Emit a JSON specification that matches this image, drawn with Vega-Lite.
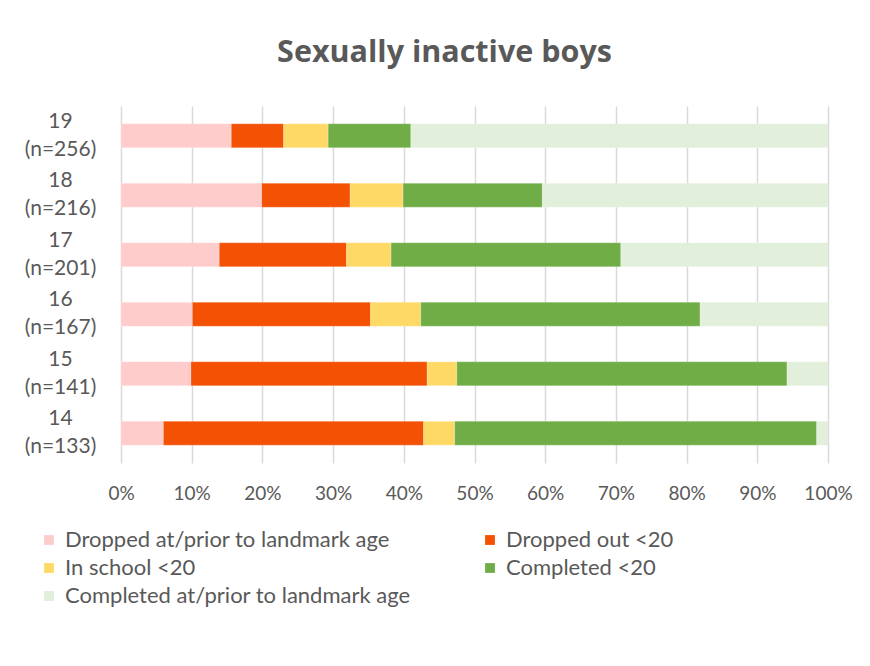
{
  "$schema": "https://vega.github.io/schema/vega-lite/v6.json",
  "width": 707,
  "height": 357,
  "autosize": "none",
  "padding": {"left": 121, "top": 106, "right": 42, "bottom": 203},
  "background": "white",
  "title": {
    "text": "Sexually inactive boys",
    "font": "Open Sans",
    "fontSize": 30.5,
    "fontWeight": "bold",
    "color": "#595959",
    "anchor": "middle",
    "dx": -30,
    "baseline": "alphabetic",
    "offset": 14
  },
  "data": {
    "values": [
      {"age": "19|(n=256)", "status": "Dropped at/prior to landmark age", "k": 1, "pct": 15.6},
      {"age": "19|(n=256)", "status": "Dropped out <20", "k": 2, "pct": 7.4},
      {"age": "19|(n=256)", "status": "In school <20", "k": 3, "pct": 6.3},
      {"age": "19|(n=256)", "status": "Completed <20", "k": 4, "pct": 11.7},
      {"age": "19|(n=256)", "status": "Completed at/prior to landmark age", "k": 5, "pct": 59.0},
      {"age": "18|(n=216)", "status": "Dropped at/prior to landmark age", "k": 1, "pct": 19.9},
      {"age": "18|(n=216)", "status": "Dropped out <20", "k": 2, "pct": 12.5},
      {"age": "18|(n=216)", "status": "In school <20", "k": 3, "pct": 7.5},
      {"age": "18|(n=216)", "status": "Completed <20", "k": 4, "pct": 19.7},
      {"age": "18|(n=216)", "status": "Completed at/prior to landmark age", "k": 5, "pct": 40.4},
      {"age": "17|(n=201)", "status": "Dropped at/prior to landmark age", "k": 1, "pct": 13.9},
      {"age": "17|(n=201)", "status": "Dropped out <20", "k": 2, "pct": 18.0},
      {"age": "17|(n=201)", "status": "In school <20", "k": 3, "pct": 6.3},
      {"age": "17|(n=201)", "status": "Completed <20", "k": 4, "pct": 32.5},
      {"age": "17|(n=201)", "status": "Completed at/prior to landmark age", "k": 5, "pct": 29.3},
      {"age": "16|(n=167)", "status": "Dropped at/prior to landmark age", "k": 1, "pct": 10.1},
      {"age": "16|(n=167)", "status": "Dropped out <20", "k": 2, "pct": 25.2},
      {"age": "16|(n=167)", "status": "In school <20", "k": 3, "pct": 7.1},
      {"age": "16|(n=167)", "status": "Completed <20", "k": 4, "pct": 39.5},
      {"age": "16|(n=167)", "status": "Completed at/prior to landmark age", "k": 5, "pct": 18.1},
      {"age": "15|(n=141)", "status": "Dropped at/prior to landmark age", "k": 1, "pct": 9.9},
      {"age": "15|(n=141)", "status": "Dropped out <20", "k": 2, "pct": 33.4},
      {"age": "15|(n=141)", "status": "In school <20", "k": 3, "pct": 4.2},
      {"age": "15|(n=141)", "status": "Completed <20", "k": 4, "pct": 46.7},
      {"age": "15|(n=141)", "status": "Completed at/prior to landmark age", "k": 5, "pct": 5.8},
      {"age": "14|(n=133)", "status": "Dropped at/prior to landmark age", "k": 1, "pct": 6.0},
      {"age": "14|(n=133)", "status": "Dropped out <20", "k": 2, "pct": 36.8},
      {"age": "14|(n=133)", "status": "In school <20", "k": 3, "pct": 4.4},
      {"age": "14|(n=133)", "status": "Completed <20", "k": 4, "pct": 51.2},
      {"age": "14|(n=133)", "status": "Completed at/prior to landmark age", "k": 5, "pct": 1.6}
    ]
  },
  "mark": {"type": "bar"},
  "encoding": {
    "y": {
      "field": "age",
      "type": "nominal",
      "sort": ["19|(n=256)", "18|(n=216)", "17|(n=201)", "16|(n=167)", "15|(n=141)", "14|(n=133)"],
      "scale": {"paddingInner": 0.6, "paddingOuter": 0.3},
      "axis": {
        "title": null,
        "domain": false,
        "ticks": false,
        "labelExpr": "split(datum.label, '|')",
        "labelAlign": "center",
        "labelBaseline": "middle",
        "labelPadding": 61,
        "labelOffset": -14,
        "labelLineHeight": 28,
        "labelFont": "Lato",
        "labelFontSize": 21,
        "labelColor": "#595959"
      }
    },
    "x": {
      "field": "pct",
      "type": "quantitative",
      "stack": "normalize",
      "scale": {"domain": [0, 1], "nice": false},
      "axis": {
        "title": null,
        "format": ".0%",
        "values": [0, 0.1, 0.2, 0.3, 0.4, 0.5, 0.6, 0.7, 0.8, 0.9, 1],
        "domain": false,
        "ticks": false,
        "grid": true,
        "gridColor": "#D9D9D9",
        "gridWidth": 1.5,
        "labelPadding": 21,
        "labelFont": "Lato",
        "labelFontSize": 19,
        "labelColor": "#595959",
        "labelFlush": false
      }
    },
    "color": {
      "field": "status",
      "type": "nominal",
      "scale": {
        "domain": ["Dropped at/prior to landmark age", "Dropped out <20", "In school <20", "Completed <20", "Completed at/prior to landmark age"],
        "range": ["#FFCCCC", "#F35104", "#FFD966", "#70AD47", "#E2EFDA"]
      },
      "legend": {
        "title": null,
        "orient": "none",
        "direction": "horizontal",
        "legendX": -83,
        "legendY": 423,
        "columns": 2,
        "columnPadding": 68,
        "rowPadding": 6,
        "padding": 0,
        "symbolType": "square",
        "symbolSize": 100,
        "symbolStrokeWidth": 0,
        "labelFont": "Lato",
        "labelFontSize": 22,
        "labelColor": "#595959",
        "labelOffset": 5,
        "labelLimit": 400
      }
    },
    "order": {"field": "k", "type": "quantitative"}
  },
  "config": {
    "view": {"stroke": null},
    "bar": {"stroke": "white", "strokeWidth": 0.5, "strokeOpacity": 0.4}
  }
}
